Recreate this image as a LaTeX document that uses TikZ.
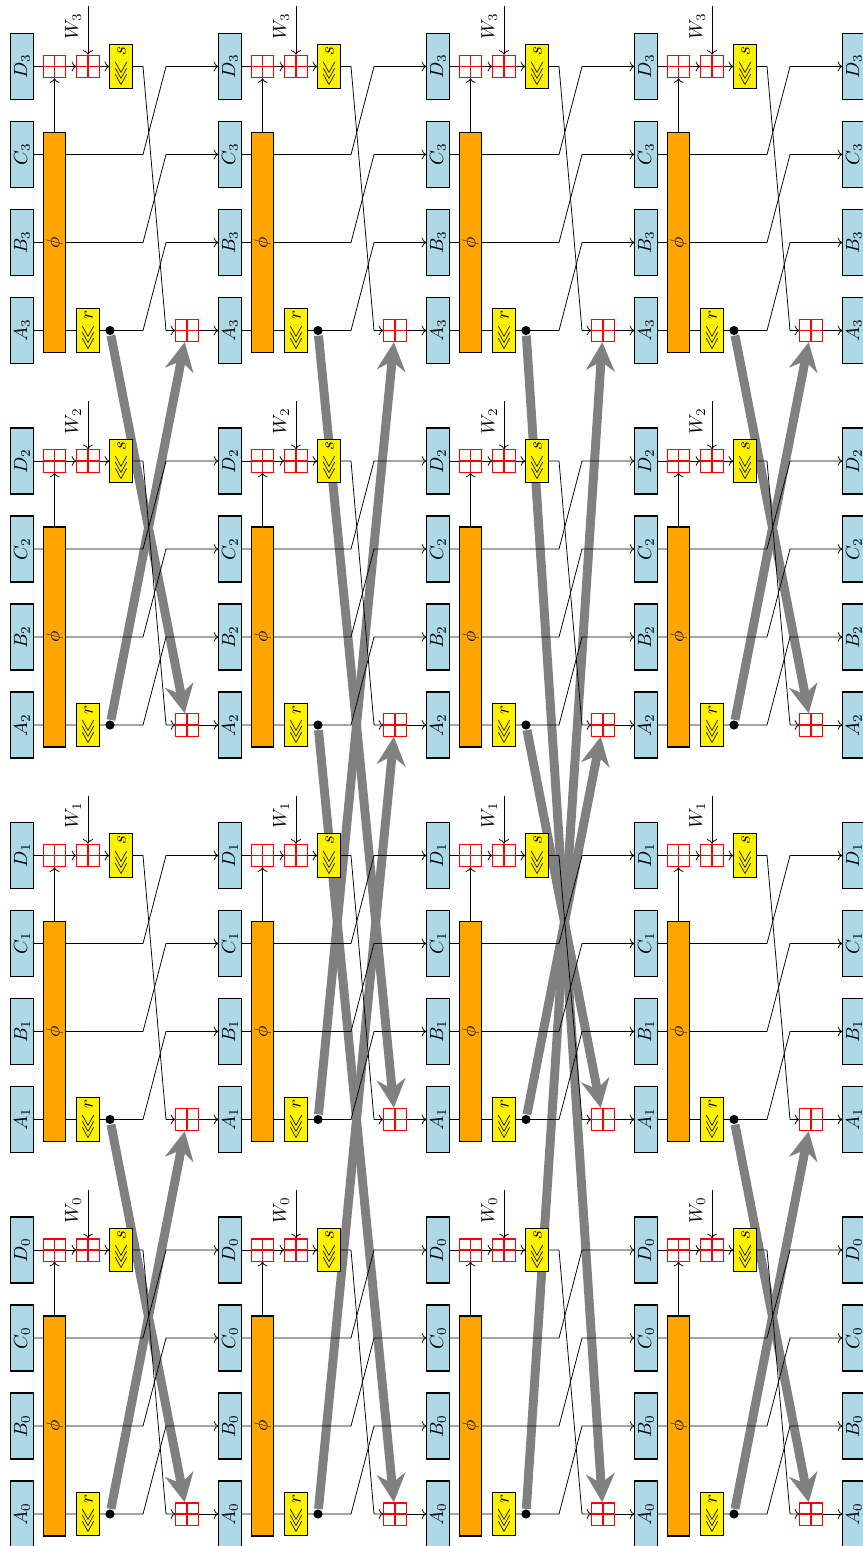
\documentclass[tikz,border=0pt]{standalone}
\usepackage{amssymb}
\usetikzlibrary{positioning,arrows.meta}

\definecolor{regblue}{HTML}{ADD8E6}
\definecolor{phiorange}{HTML}{FFA500}
\pgfdeclarelayer{mixlayer}
\pgfdeclarelayer{wirelayer}
\pgfsetlayers{mixlayer,wirelayer,main}

\begin{document}
\begin{tikzpicture}[x=0.0185cm, y=-0.0185cm, semithick,
    reg/.style={rectangle, draw, fill=regblue, rotate=90, minimum width=1.22cm, minimum height=0.41cm, inner sep=0pt},
    phibox/.style={rectangle, draw, fill=phiorange, rotate=90, minimum width=4.07cm, minimum height=0.41cm, inner sep=0pt},
    rotbox/.style={rectangle, draw, fill=yellow, rotate=90, minimum width=0.81cm, minimum height=0.41cm, inner sep=0pt},
    addbox/.style={rectangle, draw=red, fill=white, minimum size=0.41cm, inner sep=0pt,
        path picture={\draw[red] (path picture bounding box.north) -- (path picture bounding box.south)
            (path picture bounding box.west) -- (path picture bounding box.east);}},
    tap/.style={circle, fill, minimum size=0.17cm, inner sep=0pt},
    mix/.style={line width=4.7pt, draw=gray, -{Stealth[length=15pt, width=15pt]}}]
\useasboundingbox (0,0) rectangle (862,1546);

% Registers
\foreach \c in {0,...,4}
  \foreach \g in {0,...,3} {
    \pgfmathsetmacro{\xo}{22+208*\c}
    \pgfmathsetmacro{\yd}{1250-394.5*\g}
    \node (D\c\g) [reg] at (\xo,\yd) {$D_\g$};
    \node (C\c\g) [reg] at (\xo,\yd+88) {$C_\g$};
    \node (B\c\g) [reg] at (\xo,\yd+176) {$B_\g$};
    \node (A\c\g) [reg] at (\xo,\yd+264) {$A_\g$};
  }

% One step per lane
\foreach \c in {0,...,3}
  \foreach \g in {0,...,3} {
    \pgfmathsetmacro{\xo}{22+208*\c}
    \pgfmathsetmacro{\yd}{1250-394.5*\g}
    \node (phi\c\g) [phibox] at (\xo+32.5,\yd+176) {$\phi$};
    \node (pa\c\g) [addbox] at (\xo+32.5,\yd) {};
    \node (pb\c\g) [addbox] at (\xo+66,\yd) {};
    \node (s\c\g) [rotbox] at (\xo+99,\yd) {$\lll s$};
    \node (r\c\g) [rotbox] at (\xo+66,\yd+264) {$\lll r$};
    \node (tap\c\g) [tap] at (\xo+88,\yd+264) {};
    \node (pc\c\g) [addbox] at (\xo+165,\yd+264) {};
    \coordinate (w\c\g) at (\xo+66,\yd-60);
    \node (wl\c\g) [rotate=90, anchor=south east] at (w\c\g) {$W_\g$};
  }

% Wires
\begin{pgfonlayer}{wirelayer}
\foreach \c [evaluate=\c as \n using int(\c+1)] in {0,...,3}
  \foreach \g in {0,...,3} {
    \draw (D\c\g) -- (pa\c\g);
    \draw[->] (pa\c\g) -- (pb\c\g);
    \draw[->] (pb\c\g) -- (s\c\g);
    \draw[->] (phi\c\g) -- (pa\c\g);
    \draw[->] (w\c\g) -- (pb\c\g);
    \draw[->] (s\c\g) -- ++(22,0) -- ++(23,264) -- (pc\c\g);
    \draw[->] (pc\c\g) -- (A\n\g);
    \draw[->] (C\c\g) -- ++(121,0) -- ++(23,-88) -- (D\n\g);
    \draw[->] (B\c\g) -- ++(121,0) -- ++(23,-88) -- (C\n\g);
    \draw[->] (A\c\g) -- ++(121,0) -- ++(23,-88) -- (B\n\g);
  }
\end{pgfonlayer}

% Exchange between lanes
\begin{pgfonlayer}{mixlayer}
\foreach \c/\g/\p in {0/0/1,0/1/0,0/2/3,0/3/2, 1/0/2,1/1/3,1/2/0,1/3/1,
                      2/0/3,2/1/2,2/2/1,2/3/0, 3/0/1,3/1/0,3/2/3,3/3/2}
  \draw[mix] (tap\c\g) -- (pc\c\p);
\end{pgfonlayer}
\end{tikzpicture}
\end{document}
